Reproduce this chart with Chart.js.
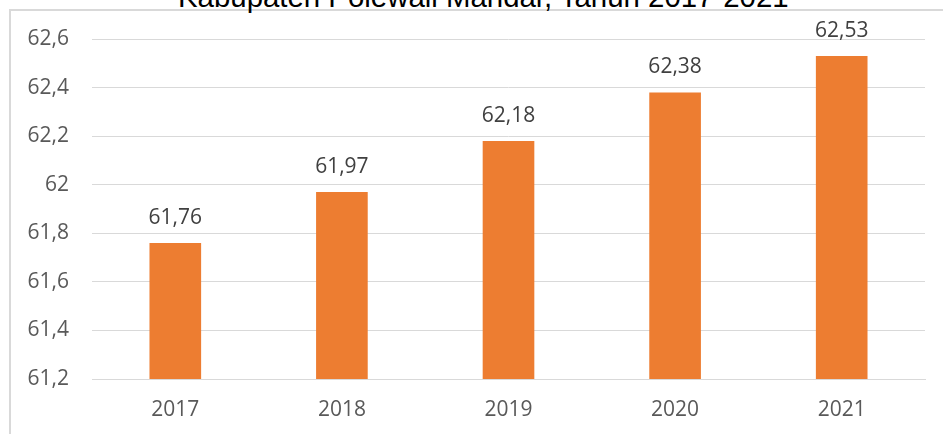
<!DOCTYPE html>
<html>
<head>
<meta charset="utf-8">
<script src="https://cdn.jsdelivr.net/npm/chart.js@4.4.1/dist/chart.umd.min.js"></script>
<style>
  html, body { margin: 0; padding: 0; background: #ffffff; }
  #wrap { position: relative; width: 943px; height: 434px; overflow: hidden; background: #fff; }
  #frame { position: absolute; left: 9px; top: 9px; width: 940px; height: 430px;
           border-left: 2px solid #d9d9d9; border-top: 2px solid #d9d9d9; }
  #title { position: absolute; left: 178px; top: -18.5px; white-space: nowrap;
           font-family: "Liberation Sans", Arial, sans-serif; font-size: 29.4px; line-height: 29px; color: #000; }
  canvas { position: absolute; left: 0; top: 0; }
</style>
</head>
<body>
<div id="wrap">
  <div id="frame"></div>
  <div id="title">Kabupaten Polewali Mandar, Tahun 2017-2021</div>
  <canvas id="c" width="943" height="434"></canvas>
</div>
<script>
const years = ["2017", "2018", "2019", "2020", "2021"];
const values = [61.76, 61.97, 62.18, 62.38, 62.53];
const yTicks = [61.2, 61.4, 61.6, 61.8, 62.0, 62.2, 62.4, 62.6];

const fmt = v => String(Number(v.toFixed(2))).replace('.', ',');

const labelPlugin = {
  id: 'valueLabels',
  afterDatasetsDraw(chart) {
    const ctx = chart.ctx;
    const meta = chart.getDatasetMeta(0);
    ctx.save();
    ctx.font = '21px "Open Sans", sans-serif';
    ctx.fillStyle = '#404040';
    ctx.textAlign = 'center';
    ctx.textBaseline = 'middle';
    meta.data.forEach((bar, i) => {
      ctx.fillText(fmt(values[i]), bar.x, bar.y - 25);
    });
    ctx.restore();
  }
};

new Chart(document.getElementById('c'), {
  type: 'bar',
  data: {
    labels: years,
    datasets: [{
      data: values,
      backgroundColor: '#ED7D31',
      borderWidth: 0,
      categoryPercentage: 0.62,
      barPercentage: 0.5
    }]
  },
  options: {
    responsive: false,
    animation: false,
    layout: { padding: { left: 0, right: 18, top: 39, bottom: 0 } },
    plugins: { legend: { display: false }, tooltip: { enabled: false }, title: { display: false } },
    scales: {
      x: {
        grid: { display: false, drawTicks: false, tickLength: 0 },
        border: { display: true, color: '#d9d9d9', width: 1 },
        ticks: { color: '#595959', font: { family: '"Open Sans", sans-serif', size: 21 }, padding: 18 },
        afterFit(scale) { scale.height = 55; }
      },
      y: {
        min: 61.2,
        max: 62.6,
        afterBuildTicks(scale) { scale.ticks = yTicks.map(v => ({ value: v })); },
        grid: { color: '#d9d9d9', lineWidth: 1, drawTicks: false, tickLength: 0 },
        border: { display: false },
        ticks: {
          color: '#595959',
          font: { family: '"Open Sans", sans-serif', size: 21 },
          padding: 23,
          callback: v => fmt(v)
        },
        afterFit(scale) { scale.width = 92; }
      }
    }
  },
  plugins: [labelPlugin]
});
</script>
</body>
</html>
